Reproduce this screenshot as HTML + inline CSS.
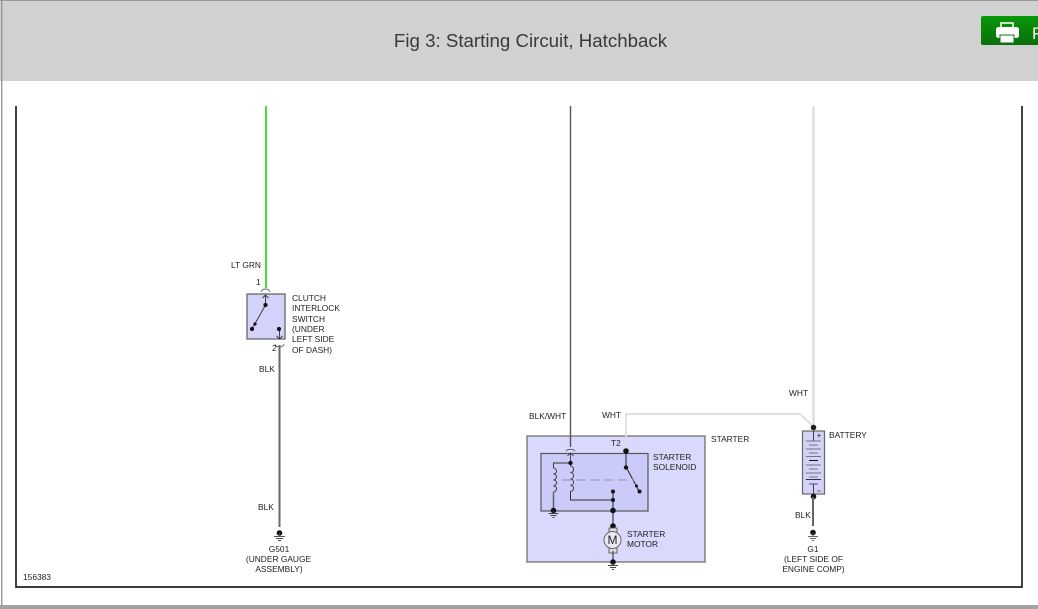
<!DOCTYPE html>
<html><head><meta charset="utf-8"><style>
html,body{margin:0;padding:0;background:#fff}
body{width:1038px;height:609px;overflow:hidden;position:relative}
svg{position:absolute;left:0;top:0}
text{font-family:"Liberation Sans",sans-serif;font-size:8.4px;fill:#222}
</style></head><body>
<svg width="1038" height="609" viewBox="0 0 1038 609" xmlns="http://www.w3.org/2000/svg">
<defs><linearGradient id="g" x1="0" y1="0" x2="0" y2="1"><stop offset="0" stop-color="#0a980a"/><stop offset="1" stop-color="#0b6f0b"/></linearGradient></defs>
<rect x="0" y="0" width="1038" height="81" fill="#d1d1d1"/>
<rect x="0" y="0" width="1038" height="1" fill="#999"/>
<rect x="1" y="0" width="1.4" height="605" fill="#969696"/>
<rect x="0" y="605" width="1038" height="4" fill="#a3a3a3"/>
<text x="530.500" y="47" text-anchor="middle" style="font-size:18.700px;fill:#3a3a3a">Fig 3: Starting Circuit, Hatchback</text>
<!-- print button -->
<rect x="981" y="16" width="62" height="29" rx="2" fill="url(#g)"/>
<g fill="#fff">
<rect x="996" y="27" width="23" height="11" rx="2.500"/>
<rect x="1001" y="23" width="12" height="6" fill="none" stroke="#fff" stroke-width="1.500"/>
<rect x="1000" y="35" width="14" height="8" stroke="#0b7a0b" stroke-width="1"/>
</g>
<text x="1032" y="39" style="font-size:17px;fill:#fff">P</text>
<!-- frame -->
<path d="M16 106V587H1022V106" fill="none" stroke="#222" stroke-width="1.700"/>
<!-- left wire -->
<path d="M266 106V288" stroke="#3fe03a" stroke-width="2" fill="none"/>
<path d="M279.500 345V527" stroke="#6a6a6a" stroke-width="2" fill="none"/>
<rect x="247" y="294" width="38" height="45" fill="#d2d2fb" stroke="#666" stroke-width="1.300"/>
<path d="M261 292a4.500 3 0 0 1 9 0M275 344a4.500 3 0 0 0 9 0" fill="none" stroke="#666" stroke-width=".9"/>
<path d="M265.500 295V305M262.500 298l3-3 3 3M279.500 329V339M276.500 336l3 3 3-3M265.500 305L252 329" fill="none" stroke="#333" stroke-width=".9"/>
<circle cx="265.500" cy="305" r="2.100" fill="#111"/><circle cx="255" cy="324" r="1.600" fill="#111"/><circle cx="252" cy="329" r="2.100" fill="#111"/><circle cx="279" cy="329" r="2.100" fill="#111"/>
<text x="231" y="268">LT GRN</text>
<text x="256" y="285">1</text>
<text x="272" y="351">2</text>
<text x="292" y="301">CLUTCH</text>
<text x="292" y="311">INTERLOCK</text>
<text x="292" y="322">SWITCH</text>
<text x="292" y="332">(UNDER</text>
<text x="292" y="342">LEFT SIDE</text>
<text x="292" y="353">OF DASH)</text>
<text x="259" y="372">BLK</text>
<text x="258" y="510">BLK</text>
<!-- G501 -->
<circle cx="279.500" cy="533" r="2.800" fill="#111"/>
<path d="M279.500 533v3M274 536.500h11M276 538.500h7M278 540.500h3" stroke="#555" stroke-width=".9" fill="none"/>
<text x="279" y="552" text-anchor="middle">G501</text>
<text x="278.500" y="562" text-anchor="middle">(UNDER GAUGE</text>
<text x="279" y="572" text-anchor="middle">ASSEMBLY)</text>
<text x="23" y="580">156383</text>
<!-- starter -->
<rect x="527" y="436" width="178" height="126" fill="#d9d9fd" stroke="#666" stroke-width="1.200"/>
<rect x="541" y="453.500" width="107" height="57.500" fill="#cbcbfa" stroke="#555" stroke-width="1.200"/>
<path d="M570.500 106V447" stroke="#555" stroke-width="1.400" fill="none"/>
<path d="M566 451a5 3 0 0 1 9 0" fill="none" stroke="#555" stroke-width=".9"/>
<path d="M570.500 453V463M567.500 456l3-3 3 3" fill="none" stroke="#444" stroke-width=".9"/>
<path d="M626 451V414H800L813 426" fill="none" stroke="#dcdcdc" stroke-width="1.700"/>
<path d="M626 451V467L639 491" fill="none" stroke="#222" stroke-width="1"/>
<circle cx="626" cy="451" r="2.800" fill="#111"/><circle cx="626" cy="467.500" r="2.200" fill="#111"/><circle cx="636.500" cy="486" r="1.500" fill="#111"/><circle cx="639.500" cy="491.500" r="2" fill="#111"/>
<path d="M570.500 463V466M570.500 491V500H613M570.500 463H553.500V468M553.500 492V510" fill="none" stroke="#333" stroke-width="1"/>
<path d="M553.500 492V510" fill="none" stroke="#666" stroke-width="1.600"/>
<path d="M553.500 468c4 1 4 5 0 6c4 0 4 5 0 6c4 0 4 5 0 6c4 0 4 5 0 6M570.500 466c4 1 4 6 0 6.500c4 0 4 6 0 6.500c4 0 4 6 0 6.500c4 0 4 5 0 6" fill="none" stroke="#333" stroke-width=".9"/>
<path d="M562 480H635" stroke="#a6a6c4" stroke-width="1.500" stroke-dasharray="9 5" fill="none"/>
<circle cx="570.500" cy="463" r="2.200" fill="#111"/>
<path d="M613 491V526" stroke="#333" stroke-width="1.100" fill="none"/>
<circle cx="613" cy="491.500" r="2" fill="#111"/><circle cx="613" cy="500" r="2" fill="#111"/><circle cx="613" cy="510.500" r="2.800" fill="#111"/><circle cx="553.500" cy="510.500" r="2.800" fill="#111"/>
<path d="M553.500 511v2M548.500 513.500h10M550.500 515.500h6M552.500 517.500h2" stroke="#444" stroke-width=".9" fill="none"/>
<circle cx="613" cy="526" r="2.800" fill="#111"/>
<path d="M609 528V553H617V528z" fill="#ddd" stroke="#444" stroke-width=".8"/>
<circle cx="612.500" cy="540" r="8.500" fill="#e9e9f5" stroke="#666" stroke-width="1"/>
<text x="612.500" y="544" text-anchor="middle" style="font-size:12px;fill:#222">M</text>
<path d="M613 551V562" stroke="#333" stroke-width="1.100" fill="none"/>
<circle cx="613" cy="562" r="2.800" fill="#111"/>
<path d="M613 563v2M608 565.500h10M610 567.500h6M612 569.500h2" stroke="#444" stroke-width=".9" fill="none"/>
<text x="529" y="419">BLK/WHT</text>
<text x="602" y="418">WHT</text>
<text x="611" y="446">T2</text>
<text x="711" y="442">STARTER</text>
<text x="653" y="460">STARTER</text>
<text x="653" y="470">SOLENOID</text>
<text x="627" y="537">STARTER</text>
<text x="627" y="547">MOTOR</text>
<!-- battery -->
<path d="M813.500 106V426" stroke="#dedede" stroke-width="2.400" fill="none"/>
<rect x="802.500" y="431" width="22" height="63" fill="#d2d2fb" stroke="#666" stroke-width="1.200"/>
<circle cx="813.500" cy="427.500" r="2.800" fill="#222"/>
<circle cx="813.500" cy="496.500" r="2.800" fill="#111"/>
<path d="M813.500 431V441M813.500 484V494" stroke="#333" stroke-width=".9"/>
<path d="M806 441h15M809 445h9M806 449h15M809 453h9M806 456.500h15" stroke="#777" stroke-width="1"/>
<path d="M809 460.500h9" stroke="#111" stroke-width="1"/>
<path d="M806 465h15M809 469h9M806 473h15M809 477h9" stroke="#777" stroke-width="1"/>
<path d="M806 479.500h15" stroke="#333" stroke-width="1"/>
<path d="M809 484h9" stroke="#555" stroke-width="1"/>
<path d="M817 435.500h4M819 433.500v4M817 491h4" stroke="#444" stroke-width=".8"/>
<path d="M813 497V526" stroke="#666" stroke-width="2" fill="none"/>
<circle cx="813" cy="532.500" r="2.800" fill="#111"/>
<path d="M813 533v3M808 536.500h10M810 538.500h6M812 540.500h2" stroke="#666" stroke-width=".9" fill="none"/>
<text x="789" y="396">WHT</text>
<text x="829" y="438">BATTERY</text>
<text x="795" y="518">BLK</text>
<text x="813" y="552" text-anchor="middle">G1</text>
<text x="813.500" y="562" text-anchor="middle">(LEFT SIDE OF</text>
<text x="813.500" y="572" text-anchor="middle">ENGINE COMP)</text>
</svg>
</body></html>
